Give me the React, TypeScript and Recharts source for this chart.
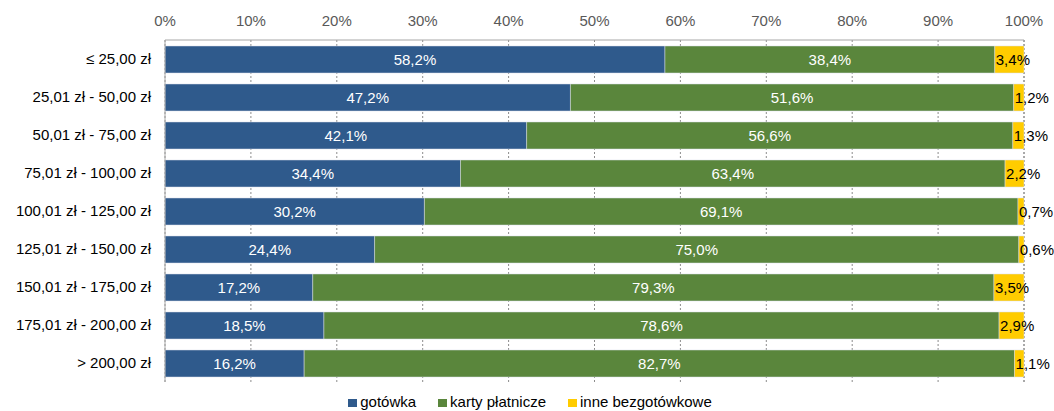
import { BarChart, Bar, XAxis, YAxis, CartesianGrid, Legend, LabelList } from 'recharts';

const categories = [
  '≤ 25,00 zł',
  '25,01 zł - 50,00 zł',
  '50,01 zł - 75,00 zł',
  '75,01 zł - 100,00 zł',
  '100,01 zł - 125,00 zł',
  '125,01 zł - 150,00 zł',
  '150,01 zł - 175,00 zł',
  '175,01 zł - 200,00 zł',
  '> 200,00 zł',
];
const gotowka = [58.2, 47.2, 42.1, 34.4, 30.2, 24.4, 17.2, 18.5, 16.2];
const karty = [38.4, 51.6, 56.6, 63.4, 69.1, 75.0, 79.3, 78.6, 82.7];
const inne = [3.4, 1.2, 1.3, 2.2, 0.7, 0.6, 3.5, 2.9, 1.1];
const xTicks = [0, 10, 20, 30, 40, 50, 60, 70, 80, 90, 100];

const series = [
  { key: 'gotowka', name: 'gotówka', color: '#2f5a8c' },
  { key: 'karty', name: 'karty płatnicze', color: '#5a863c' },
  { key: 'inne', name: 'inne bezgotówkowe', color: '#ffcc00' },
];

const data = categories.map((name, i) => ({
  name,
  gotowka: gotowka[i],
  karty: karty[i],
  inne: inne[i],
}));

const fmt = (v: any) => `${Number(v).toFixed(1).replace('.', ',')}%`;
const FONT = '"Liberation Sans", Arial, sans-serif';

function LegendBox() {
  return (
    <div style={{ display: 'flex', justifyContent: 'center', gap: 22, paddingLeft: 36, fontSize: 15, lineHeight: '17px', fontFamily: FONT, color: '#000' }}>
      {series.map((s) => (
        <div key={s.key} style={{ display: 'flex', alignItems: 'center' }}>
          <span style={{ display: 'inline-block', width: 9, height: 8, background: s.color, marginRight: 3, marginTop: 3 }} />
          <span>{s.name}</span>
        </div>
      ))}
    </div>
  );
}

export default function App() {
  return (
    <div style={{ position: 'absolute', left: 0, top: 0, fontFamily: FONT }}>
      <BarChart
        width={1054}
        height={411}
        data={data}
        layout="vertical"
        margin={{ top: 10, right: 30, left: 0, bottom: 12 }}
        barSize={27}
      >
        <CartesianGrid
          horizontal={false}
          stroke="#8c8c8c"
          strokeDasharray="2 2"
        />
        <XAxis
          type="number"
          orientation="top"
          domain={[0, 100]}
          ticks={xTicks}
          tickFormatter={(v) => `${v}%`}
          height={30}
          tickLine={false}
          tickMargin={8}
          stroke="#a6a6a6"
          tick={{ fill: '#595959', fontSize: 15, fontFamily: FONT }}
        />
        <YAxis
          type="category"
          dataKey="name"
          width={165}
          tickLine={false}
          tickMargin={8}
          stroke="#a6a6a6"
          tick={{ fill: '#000000', fontSize: 15, fontFamily: FONT }}
        />
        <Legend
          verticalAlign="bottom"
          align="center"
          content={() => <LegendBox />}
          wrapperStyle={{ top: 393 }}
        />
        {series.map((s) => (
          <Bar
            key={s.key}
            dataKey={s.key}
            name={s.name}
            stackId="a"
            fill={s.color}
            stroke="#d9dde8"
            strokeWidth={0.5}
            isAnimationActive={false}
          >
            {s.key === 'inne' ? (
              <LabelList dataKey={s.key} position="insideLeft" offset={1} fill="#000000" fontSize={15} fontFamily={FONT} formatter={fmt} />
            ) : (
              <LabelList dataKey={s.key} position="center" fill="#ffffff" fontSize={15} fontFamily={FONT} formatter={fmt} />
            )}
          </Bar>
        ))}
      </BarChart>
    </div>
  );
}
